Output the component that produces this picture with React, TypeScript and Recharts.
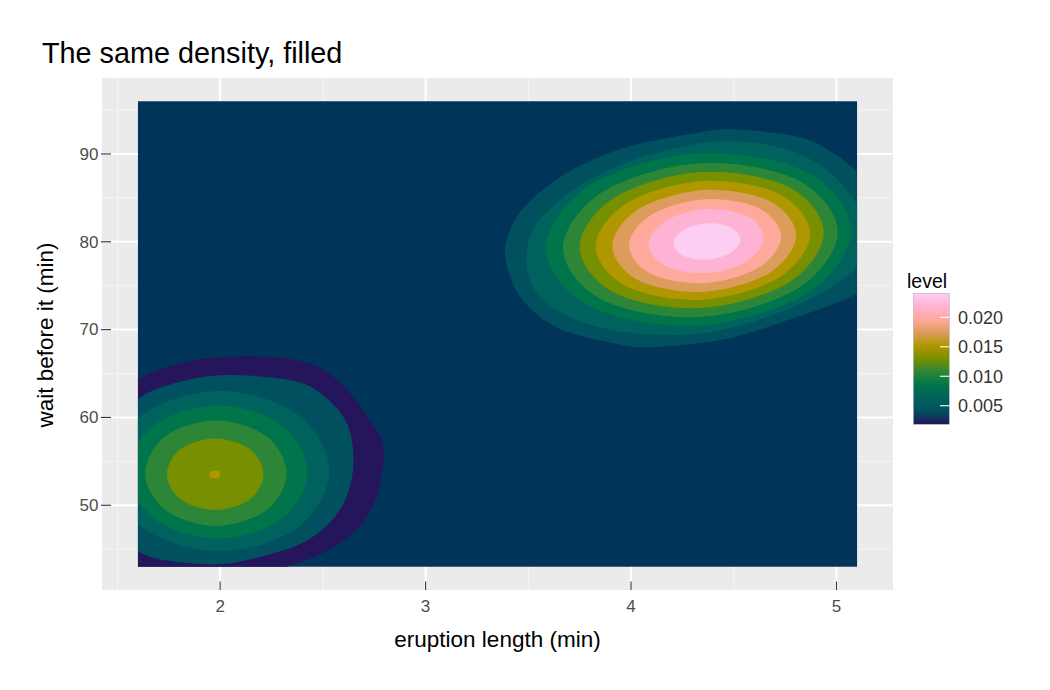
import { ScatterChart, Scatter, XAxis, YAxis, CartesianGrid, ReferenceArea } from 'recharts';

const FONT = '"Liberation Sans", Arial, Helvetica, sans-serif';

// axes
const X_TICKS = [2, 3, 4, 5];
const X_MINOR = [1.5, 2.5, 3.5, 4.5];
const Y_TICKS = [50, 60, 70, 80, 90];
const Y_MINOR = [45, 55, 65, 75, 85, 95];
const X_DOMAIN = [1.425, 5.275];
const Y_DOMAIN = [40.35, 98.65];

// extent of the estimated density grid
const GRID_X = [1.6, 5.1];
const GRID_Y = [43, 96];

// contour levels, low to high, and their fills
const LEVELS = [0.002, 0.004, 0.006, 0.008, 0.01, 0.012, 0.014, 0.016, 0.018, 0.02, 0.022];
const LEVEL_FILLS = [
  '#25155A', '#00505F', '#00625C', '#00744A', '#2D8637', '#788F00',
  '#B09700', '#DC9D5C', '#FFA89C', '#FFB3D4', '#FDCDF3'
];
const GRID_FILL = '#003459';

// short eruptions blob (eruption, waiting) rings
const SHORT_002 = [
  [1.475, 62.05], [1.598, 64.32], [1.757, 65.83], [1.919, 66.67], [2.13, 66.97], [2.324, 66.7],
  [2.486, 65.65], [2.616, 63.18], [2.713, 60.15], [2.786, 57.5], [2.794, 54.85], [2.762, 51.06],
  [2.681, 47.65], [2.535, 45.0], [2.34, 43.1], [2.194, 41.59], [1.903, 40.45], [1.611, 40.68],
  [1.441, 43.86], [1.392, 50.68], [1.417, 57.5]
];
const SHORT_004 = [
  [1.417, 53.41], [1.475, 58.64], [1.598, 62.05], [1.757, 63.75], [2.0, 64.81], [2.324, 64.32],
  [2.486, 62.81], [2.616, 59.4], [2.649, 55.0], [2.616, 51.02], [2.535, 48.03], [2.405, 45.76],
  [2.243, 44.43], [2.01, 43.3], [1.757, 43.64], [1.598, 44.81], [1.475, 48.18]
];
const SHORT_006 = [
  [1.469, 53.9], [1.624, 60.35], [2.0, 63.02], [2.376, 60.35], [2.531, 53.9], [2.376, 47.44], [2.0, 44.77], [1.624, 47.44]
];
const SHORT_008 = [
  [1.554, 53.78], [1.682, 59.15], [1.99, 61.36], [2.299, 59.15], [2.426, 53.78], [2.299, 48.42], [1.99, 46.22], [1.682, 48.42]
];
const SHORT_010 = [
  [1.635, 53.65], [1.736, 57.89], [1.98, 59.65], [2.223, 57.89], [2.324, 53.65], [2.223, 49.41], [1.98, 47.65], [1.736, 49.41]
];
const SHORT_012 = [
  [1.741, 53.53], [1.809, 56.42], [1.976, 57.61], [2.142, 56.42], [2.211, 53.53], [2.142, 50.65], [1.976, 49.47], [1.809, 50.65]
];
const SHORT_014 = [
  [1.947, 53.5], [1.952, 53.85], [1.973, 53.9], [1.993, 53.85], [1.999, 53.5], [1.993, 53.12], [1.973, 53.07], [1.952, 53.12]
];

// long eruptions blob
const LONG_004 = [
  [3.386, 79.09], [3.434, 82.5], [3.499, 84.4], [3.58, 86.1], [3.742, 88.56], [3.985, 90.83],
  [4.31, 92.35], [4.48, 92.81], [4.771, 92.16], [4.933, 90.83], [5.1, 87.99], [5.185, 84.77],
  [5.233, 80.8], [5.185, 76.82], [5.096, 74.09], [4.771, 71.14], [4.447, 68.86], [4.091, 67.99],
  [3.904, 68.49], [3.661, 70.0], [3.499, 72.65], [3.418, 75.68]
];
const LONG_006 = [
  [3.491, 78.72], [3.517, 81.14], [3.58, 83.18], [3.742, 86.28], [3.985, 89.09], [4.285, 91.02],
  [4.528, 91.42], [4.771, 90.45], [4.966, 87.95], [5.102, 84.2], [5.17, 80.8], [5.102, 77.27],
  [4.966, 74.77], [4.771, 72.39], [4.528, 70.45], [4.285, 69.43], [3.985, 69.66], [3.742, 71.02],
  [3.58, 73.18], [3.507, 75.68]
];
const LONG_008 = [
  [5.071, 81.31], [4.854, 87.94], [4.328, 90.08], [3.803, 86.47], [3.585, 79.22], [3.803, 72.59], [4.328, 70.45], [4.854, 74.07]
];
const LONG_010 = [
  [5.006, 81.13], [4.81, 87.04], [4.338, 88.94], [3.865, 85.72], [3.669, 79.26], [3.865, 73.34], [4.338, 71.44], [4.81, 74.67]
];
const LONG_012 = [
  [4.938, 81.04], [4.764, 86.27], [4.344, 87.95], [3.924, 85.1], [3.75, 79.38], [3.924, 74.15], [4.344, 72.47], [4.764, 75.32]
];
const LONG_014 = [
  [4.872, 80.9], [4.719, 85.47], [4.35, 86.93], [3.981, 84.43], [3.828, 79.44], [3.981, 74.87], [4.35, 73.41], [4.719, 75.91]
];
const LONG_016 = [
  [4.804, 80.74], [4.673, 84.65], [4.357, 85.91], [4.04, 83.77], [3.909, 79.49], [4.04, 75.57], [4.357, 74.32], [4.673, 76.46]
];
const LONG_018 = [
  [4.731, 80.6], [4.622, 83.82], [4.36, 84.85], [4.099, 83.09], [3.99, 79.56], [4.099, 76.34], [4.36, 75.31], [4.622, 77.07]
];
const LONG_020 = [
  [4.645, 80.47], [4.563, 82.93], [4.365, 83.72], [4.168, 82.37], [4.086, 79.69], [4.168, 77.23], [4.365, 76.44], [4.563, 77.79]
];
const LONG_022 = [
  [4.532, 80.26], [4.484, 81.66], [4.369, 82.11], [4.255, 81.34], [4.207, 79.81], [4.255, 78.41], [4.369, 77.95], [4.484, 78.73]
];

// legend colourbar
const LEGEND_TICKS = [0.005, 0.01, 0.015, 0.02];
const LEGEND_RANGE = [0.00185, 0.02407];

const CONTOURS = [
  { level: 0.002, pts: SHORT_002 },
  { level: 0.004, pts: SHORT_004 },
  { level: 0.004, pts: LONG_004 },
  { level: 0.006, pts: SHORT_006 },
  { level: 0.006, pts: LONG_006 },
  { level: 0.008, pts: SHORT_008 },
  { level: 0.008, pts: LONG_008 },
  { level: 0.01, pts: SHORT_010 },
  { level: 0.01, pts: LONG_010 },
  { level: 0.012, pts: SHORT_012 },
  { level: 0.012, pts: LONG_012 },
  { level: 0.014, pts: SHORT_014 },
  { level: 0.014, pts: LONG_014 },
  { level: 0.016, pts: LONG_016 },
  { level: 0.018, pts: LONG_018 },
  { level: 0.02, pts: LONG_020 },
  { level: 0.022, pts: LONG_022 }
];

const fillFor = (level: number) => LEVEL_FILLS[LEVELS.indexOf(level)];

// closed catmull-rom through the pixel points the scatter hands us
function closedCurve(pts: { x: number; y: number }[]) {
  const n = pts.length;
  if (!n) return '';
  let d = `M${pts[0].x},${pts[0].y}`;
  for (let i = 0; i < n; i++) {
    const p0 = pts[(i - 1 + n) % n];
    const p1 = pts[i];
    const p2 = pts[(i + 1) % n];
    const p3 = pts[(i + 2) % n];
    const c1x = p1.x + (p2.x - p0.x) / 6;
    const c1y = p1.y + (p2.y - p0.y) / 6;
    const c2x = p2.x - (p3.x - p1.x) / 6;
    const c2y = p2.y - (p3.y - p1.y) / 6;
    d += ` C${c1x},${c1y} ${c2x},${c2y} ${p2.x},${p2.y}`;
  }
  return d + ' Z';
}

const contourLine = (fill: string) => (props: any) => (
  <path d={closedCurve(props.points || [])} fill={fill} stroke="none" clipPath="url(#density-clip)" />
);

const NoSymbol = () => <g />;

const GridRect = (props: any) => {
  const { x, y, width, height } = props;
  return (
    <g>
      <defs>
        <clipPath id="density-clip">
          <rect x={x} y={y} width={width} height={height} />
        </clipPath>
      </defs>
      <rect x={x} y={y} width={width} height={height} fill={GRID_FILL} />
    </g>
  );
};

const XTick = (props: any) => {
  const { x, y, payload } = props;
  return (
    <g>
      <line x1={x} x2={x} y1={y - 8.5} y2={y} stroke="#333333" strokeWidth={1.1} />
      <text x={x} y={y + 21.7} textAnchor="middle" fontSize={17} fill="#4D4D4D" fontFamily={FONT}>
        {payload.value}
      </text>
    </g>
  );
};

const YTick = (props: any) => {
  const { x, y, payload } = props;
  return (
    <g>
      <line x1={x - 1} x2={x + 9} y1={y} y2={y} stroke="#333333" strokeWidth={1.1} />
      <text x={x - 3.5} y={y + 5.8} textAnchor="end" fontSize={17} fill="#4D4D4D" fontFamily={FONT}>
        {payload.value}
      </text>
    </g>
  );
};

function LevelLegend() {
  const top = 293.3;
  const h = 131;
  const toY = (v: number) => top + h - ((v - LEGEND_RANGE[0]) / (LEGEND_RANGE[1] - LEGEND_RANGE[0])) * h;
  return (
    <g>
      <defs>
        <linearGradient id="levelbar" x1="0" y1="1" x2="0" y2="0">
          {LEVEL_FILLS.map((c, i) => (
            <stop key={i} offset={i / (LEVEL_FILLS.length - 1)} stopColor={c} />
          ))}
        </linearGradient>
      </defs>
      <text x={907} y={288} fontSize={19.5} fill="#000">level</text>
      <rect x={913.3} y={top} width={36} height={h} fill="url(#levelbar)" stroke="#B5B5B5" strokeWidth={0.6} />
      {LEGEND_TICKS.map((v) => (
        <g key={v}>
          <line x1={940} x2={949.3} y1={toY(v)} y2={toY(v)} stroke="#FFFFFF" strokeWidth={1.1} />
          <text x={958} y={toY(v) + 6.3} fontSize={18} fill="#333333">{v.toFixed(3)}</text>
        </g>
      ))}
    </g>
  );
}

export default function App() {
  return (
    <div style={{ position: 'absolute', left: 0, top: 0, width: 1050, height: 690, background: '#FFFFFF' }}>
      <ScatterChart
        width={1050}
        height={690}
        margin={{ top: 78, right: 157, bottom: 60, left: 42 }}
        style={{ fontFamily: FONT }}
      >
        <CartesianGrid fill="#EBEBEB" stroke="#F5F5F5" strokeWidth={1} verticalValues={X_MINOR} horizontalValues={Y_MINOR} />
        <CartesianGrid stroke="#FFFFFF" strokeWidth={2} verticalValues={X_TICKS} horizontalValues={Y_TICKS} />
        <XAxis
          type="number"
          dataKey="x"
          domain={X_DOMAIN}
          allowDataOverflow
          ticks={X_TICKS}
          interval={0}
          height={40}
          axisLine={false}
          tickLine={false}
          tickSize={0}
          tickMargin={0}
          tick={XTick}
        />
        <YAxis
          type="number"
          dataKey="y"
          domain={Y_DOMAIN}
          allowDataOverflow
          ticks={Y_TICKS}
          interval={0}
          width={60}
          axisLine={false}
          tickLine={false}
          tickSize={0}
          tickMargin={0}
          tick={YTick}
        />
        <ReferenceArea x1={GRID_X[0]} x2={GRID_X[1]} y1={GRID_Y[0]} y2={GRID_Y[1]} shape={GridRect} />
        {CONTOURS.map((c, i) => (
          <Scatter
            key={i}
            data={c.pts.map(([x, y]) => ({ x, y }))}
            isAnimationActive={false}
            shape={NoSymbol}
            line={contourLine(fillFor(c.level))}
            legendType="none"
          />
        ))}
      </ScatterChart>
      <svg
        width={1050}
        height={690}
        style={{ position: 'absolute', left: 0, top: 0, pointerEvents: 'none' }}
        fontFamily={FONT}
      >
        <text x={42} y={62.5} fontSize={28.8} fill="#000">The same density, filled</text>
        <text x={497.5} y={647} textAnchor="middle" fontSize={22.5} fill="#000">eruption length (min)</text>
        <text transform="translate(53.3,335) rotate(-90)" textAnchor="middle" fontSize={22.5} fill="#000">
          wait before it (min)
        </text>
        <LevelLegend />
      </svg>
    </div>
  );
}
